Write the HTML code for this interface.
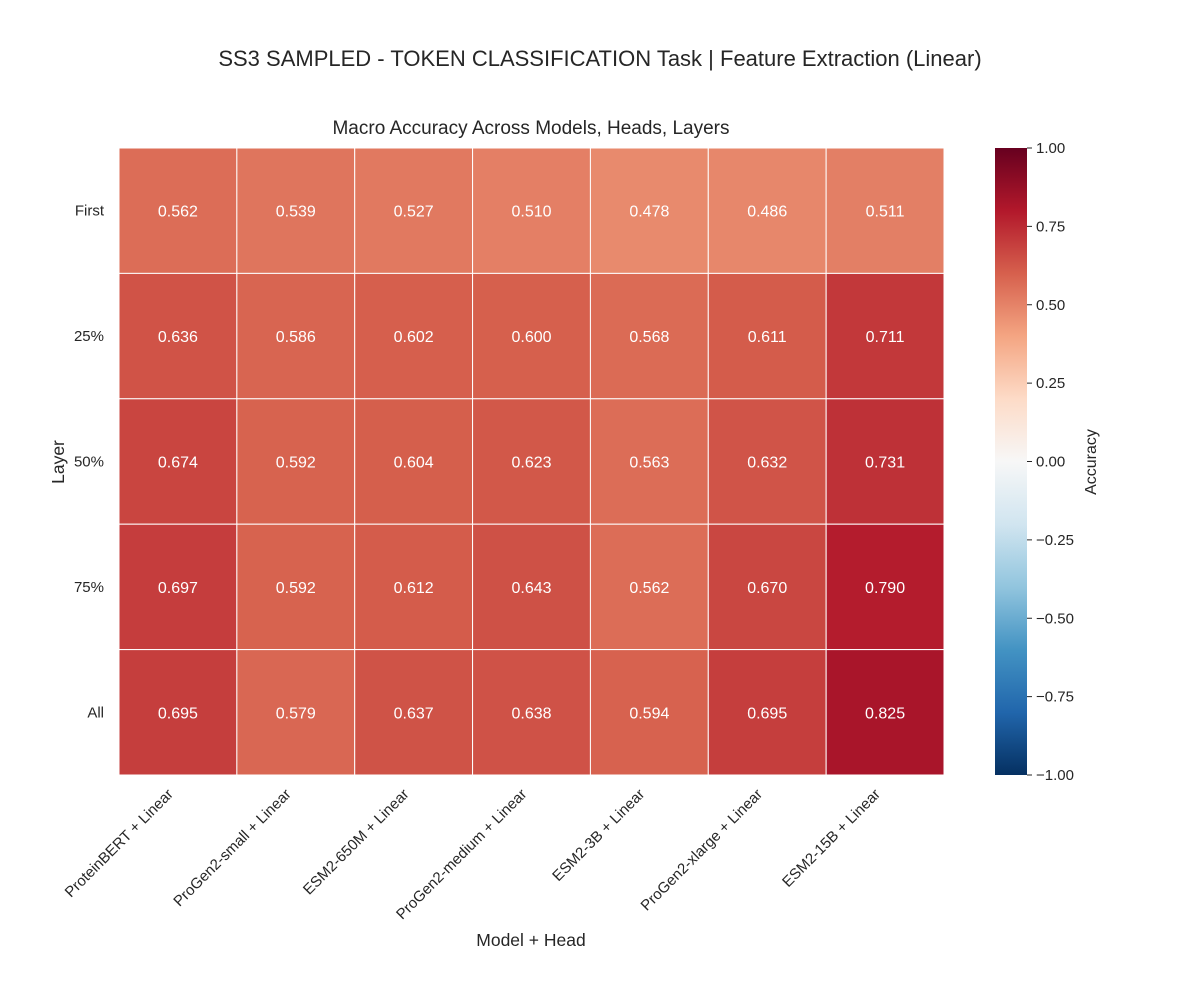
<!DOCTYPE html>
<html><head><meta charset="utf-8"><style>
body{margin:0;background:#fff;}
svg text{font-family:"Liberation Sans","DejaVu Sans",sans-serif;}
</style></head><body>
<svg id="chart" width="1200" height="1000" xmlns="http://www.w3.org/2000/svg">
<rect width="1200" height="1000" fill="#fff"/>
<text x="600" y="66" font-size="22" text-anchor="middle" fill="#262626">SS3 SAMPLED - TOKEN CLASSIFICATION Task | Feature Extraction (Linear)</text>
<text x="531" y="134" font-size="19" text-anchor="middle" fill="#262626">Macro Accuracy Across Models, Heads, Layers</text>
<g id="cells"></g>
<g id="xlabels"></g>
<g id="ylabels"></g>
<text x="531" y="946" font-size="17.5" text-anchor="middle" fill="#262626">Model + Head</text>
<text transform="translate(64,462) rotate(-90)" font-size="17.5" text-anchor="middle" fill="#262626">Layer</text>
<defs><linearGradient id="cbgrad" x1="0" y1="1" x2="0" y2="0"></linearGradient></defs>
<rect x="995" y="148" width="32" height="627" fill="url(#cbgrad)"/>
<g id="cbticks"></g>
<text transform="translate(1096,462) rotate(-90)" font-size="16" text-anchor="middle" fill="#262626">Accuracy</text>
</svg>
<script>
const models = ["ProteinBERT + Linear","ProGen2-small + Linear","ESM2-650M + Linear","ProGen2-medium + Linear","ESM2-3B + Linear","ProGen2-xlarge + Linear","ESM2-15B + Linear"];
const layers = ["First","25%","50%","75%","All"];
const rowFirst = [0.562,0.539,0.527,0.510,0.478,0.486,0.511];
const row25 = [0.636,0.586,0.602,0.600,0.568,0.611,0.711];
const row50 = [0.674,0.592,0.604,0.623,0.563,0.632,0.731];
const row75 = [0.697,0.592,0.612,0.643,0.562,0.670,0.790];
const rowAll = [0.695,0.579,0.637,0.638,0.594,0.695,0.825];
const cbTicks = [1.0,0.75,0.5,0.25,0,-0.25,-0.5,-0.75,-1.0];
const values = [rowFirst,row25,row50,row75,rowAll];

const NS="http://www.w3.org/2000/svg";
const X0=119,X1=944,Y0=148,Y1=775;
const cw=(X1-X0)/models.length, ch=(Y1-Y0)/layers.length;
const stops=["#053061","#2166ac","#4393c3","#92c5de","#d1e5f0","#f7f7f7","#fddbc7","#f4a582","#d6604d","#b2182b","#67001f"];
function hex(h){return [1,3,5].map(i=>parseInt(h.substr(i,2),16));}
function color(v){let t=(v+1)/2*10;t=Math.max(0,Math.min(10,t));let i=Math.min(9,Math.floor(t)),f=t-i;
const a=hex(stops[i]),b=hex(stops[i+1]);return "rgb("+a.map((c,k)=>Math.round(c+(b[k]-c)*f)).join(",")+")";}
function el(tag,attrs,parent,txt){const e=document.createElementNS(NS,tag);for(const k in attrs)e.setAttribute(k,attrs[k]);if(txt!==undefined)e.textContent=txt;parent.appendChild(e);return e;}
const cells=document.getElementById('cells');
values.forEach((row,r)=>row.forEach((v,c)=>{
 const rect=el('rect',{x:X0+c*cw,y:Y0+r*ch,width:cw,height:ch,fill:color(v),stroke:'#fff','stroke-width':1},cells);
 
 
 const t=el('text',{x:X0+(c+0.5)*cw,y:Y0+(r+0.5)*ch+6,'font-size':16,'text-anchor':'middle',fill:'#fff'},cells,v.toFixed(3));
 
 
}));
const xl=document.getElementById('xlabels');
models.forEach((m,c)=>{const x=X0+(c+0.5)*cw;
 const t=el('text',{transform:`translate(${x-4},${795}) rotate(-45)`,'font-size':15,'text-anchor':'end',fill:'#262626'},xl,m);
 
 });
const yl=document.getElementById('ylabels');
layers.forEach((l,r)=>{const t=el('text',{x:104,y:Y0+(r+0.5)*ch+5,'font-size':15,'text-anchor':'end',fill:'#262626'},yl,l);
 
 });
const g=document.getElementById('cbgrad');
stops.forEach((s,i)=>el('stop',{offset:(i/10),'stop-color':s},g));
const cb=document.getElementById('cbticks');
cbTicks.forEach(v=>{const y=Y1-(v+1)/2*(Y1-Y0);
 el('line',{x1:1027,x2:1032,y1:y,y2:y,stroke:'#262626','stroke-width':1},cb);
 const t=el('text',{x:1036,y:y+5,'font-size':15,fill:'#262626'},cb,(v<0?'\u2212':'')+Math.abs(v).toFixed(2));
 
 });
</script>
</body></html>
